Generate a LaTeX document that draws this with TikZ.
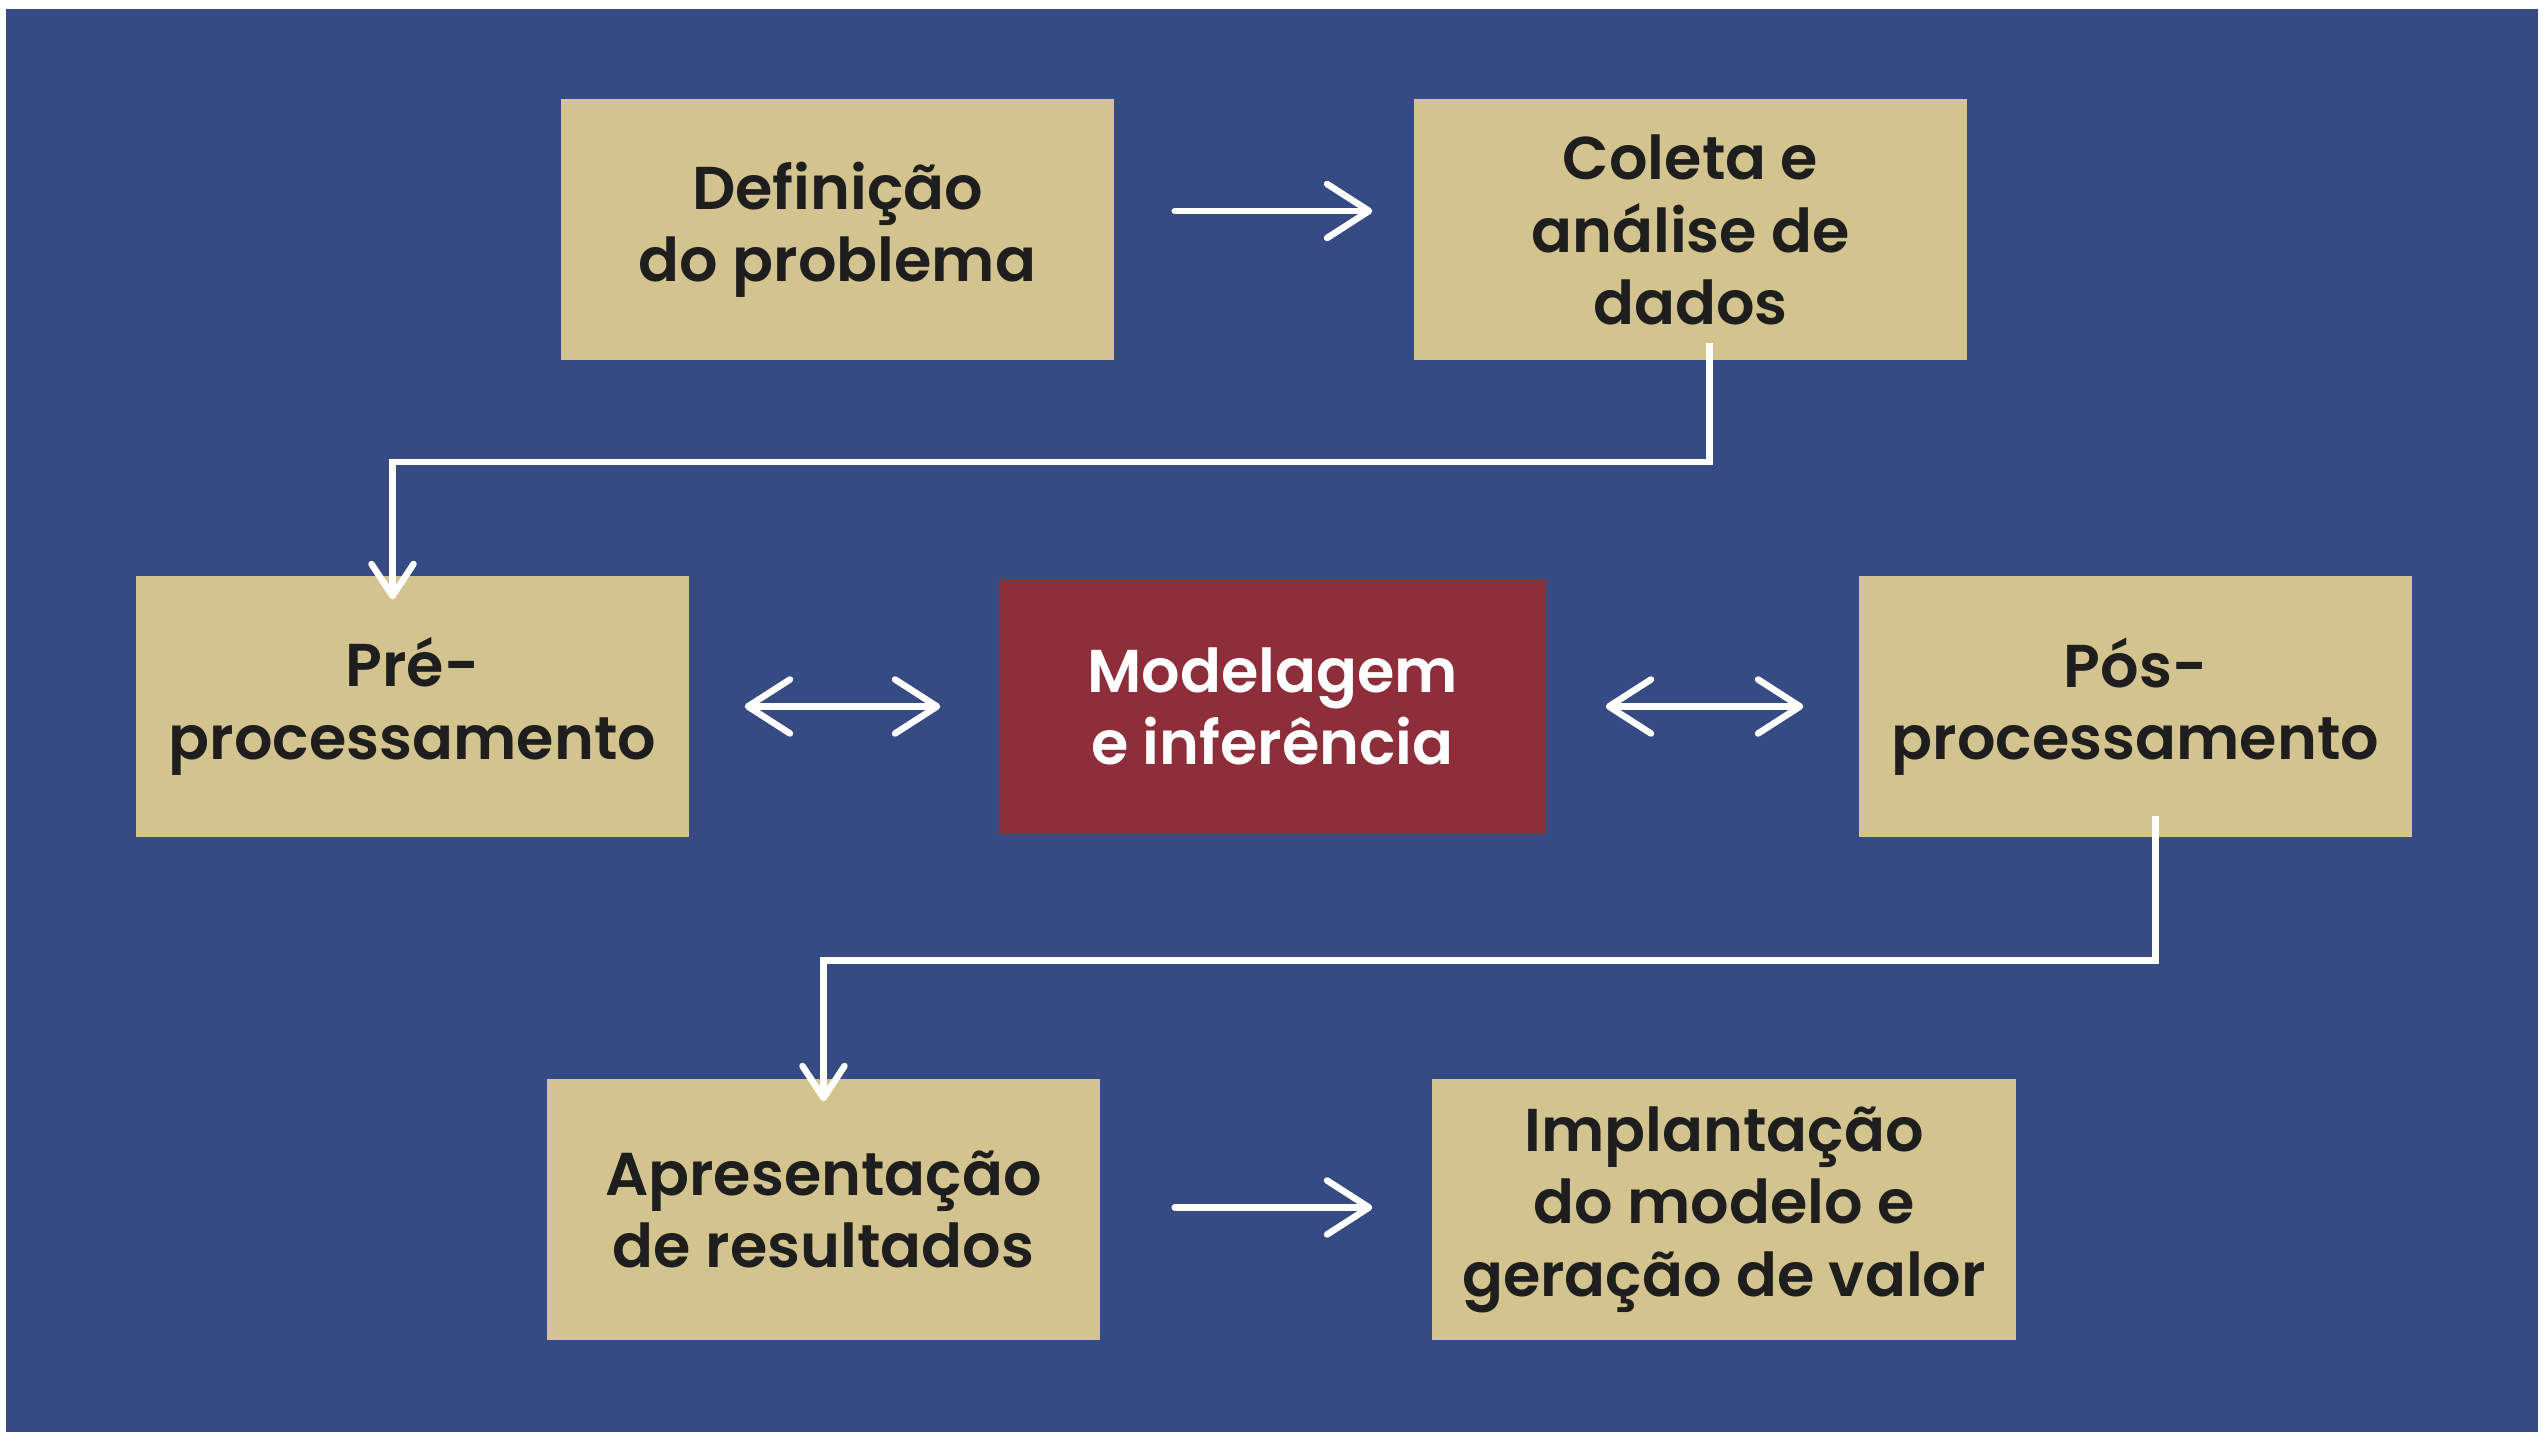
\documentclass[tikz,border=0pt]{standalone}
\usepackage{fontspec}
\setmainfont{Poppins}[BoldFont={Poppins SemiBold}]
\usepackage{xcolor}
\usepackage{tikz}
\usetikzlibrary{arrows.meta}
\definecolor{panelblue}{RGB}{54,75,131}
\definecolor{boxtan}{RGB}{211,196,143}
\definecolor{modelred}{RGB}{142,46,59}
\definecolor{textdark}{RGB}{30,30,30}

\begin{document}
\begin{tikzpicture}[
    stagebox/.style={rectangle,fill=boxtan,text=textdark,minimum width=5.53cm,
        minimum height=2.61cm,inner sep=0pt,align=center,
        font=\fontsize{17.2}{20.6}\selectfont\bfseries},
    flow/.style={white,line width=0.065cm,line cap=round,
        -{Straight Barb[length=0.42cm,width=0.54cm,line cap=round,line join=round]}},
    twoway/.style={white,line width=0.065cm,line cap=round,
        {Straight Barb[length=0.42cm,width=0.54cm,line cap=round,line join=round]}-{Straight Barb[length=0.42cm,width=0.54cm,line cap=round,line join=round]}},
    drop/.style={white,line width=0.065cm,line join=miter,
        -{Straight Barb[length=0.32cm,width=0.42cm,line cap=round,line join=round]}}]
                \useasboundingbox (0,0) rectangle (25.43,14.41);
                \fill[white] (0,0) rectangle (25.43,14.41);
                \fill[panelblue] (0.06,0.09) rectangle (25.38,14.32);
                % Stages
                \node[stagebox] (def) at (8.375,12.11) {Definição\\do problema};
                \node[stagebox] (coleta) at (16.905,12.11) {Coleta e\\análise de\\dados};
                \node[stagebox] (pre) at (4.125,7.345) {Pré-\\processamento};
                \node[stagebox,fill=modelred,text=white,minimum width=5.47cm,minimum height=2.55cm]
                    (model) at (12.725,7.345) {Modelagem\\e inferência};
                \node[stagebox] (pos) at (21.355,7.345) {Pós-\\processamento};
                \node[stagebox] (apres) at (8.235,2.315) {Apresentação\\de resultados};
                \node[stagebox,minimum width=5.84cm] (impl) at (17.24,2.315) {Implantação\\do modelo e\\geração de valor};
                % Arrows
                \draw[flow] ([xshift=0.6cm,yshift=0.19cm]def.east) -- ([xshift=-0.41cm,yshift=0.19cm]coleta.west);
                \draw[drop] ([xshift=0.19cm,yshift=0.18cm]coleta.south) -- ++(0,-1.19)
                    -| ([xshift=-0.2cm,yshift=-0.24cm]pre.north);
                \draw[twoway] ([xshift=0.55cm]pre.east) -- ([xshift=-0.58cm]model.west);
                \draw[twoway] ([xshift=0.59cm]model.east) -- ([xshift=-0.55cm]pos.west);
                \draw[drop] ([xshift=0.2cm,yshift=0.22cm]pos.south) -- ++(0,-1.45)
                    -| ([yshift=-0.23cm]apres.north);
                \draw[flow] ([xshift=0.74cm,yshift=0.02cm]apres.east) -- ([xshift=-0.59cm,yshift=0.02cm]impl.west);
            \end{tikzpicture}
\end{document}
